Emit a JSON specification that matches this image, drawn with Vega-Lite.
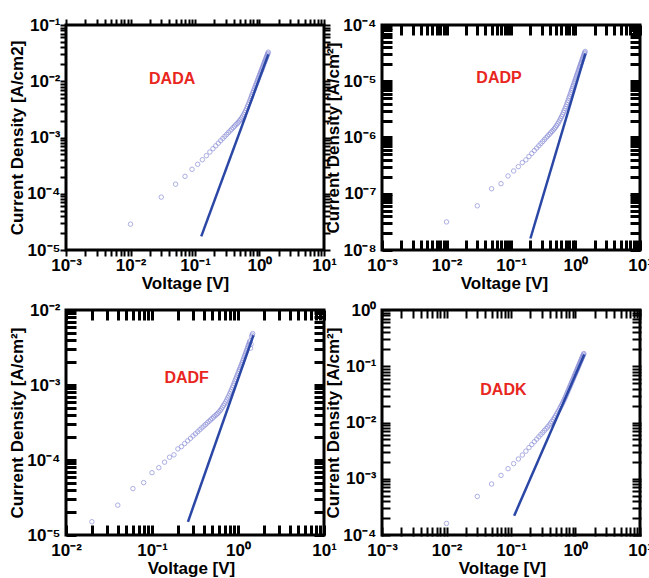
{
  "$schema": "https://vega.github.io/schema/vega-lite/v6.json",
  "padding": {"left": 7, "top": 14, "right": 0, "bottom": 0},
  "bounds": "flush",
  "columns": 2,
  "spacing": {"row": 60, "column": 58},
  "config": {
    "view": {"stroke": "black", "strokeWidth": 3},
    "font": "Liberation Sans",
    "axis": {
      "grid": false, "domain": false,
      "labelFont": "Liberation Sans", "labelFontWeight": "bold", "labelFontSize": 17, "labelColor": "black",
      "titleFont": "Liberation Sans", "titleFontWeight": "bold", "titleFontSize": 17, "titleColor": "black",
      "labelFlush": false, "labelOverlap": false, "labelBound": false
    }
  },
  "datasets": {
    "dada_pts": [
      {"V":0.01,"J":2.88e-5},{"V":0.03,"J":8.71e-5},{"V":0.05,"J":1.48e-4},{"V":0.07,"J":2.04e-4},{"V":0.09,"J":2.72e-4},{"V":0.11,"J":3.34e-4},{"V":0.13,"J":4.03e-4},{"V":0.15,"J":4.75e-4},{"V":0.17,"J":5.52e-4},{"V":0.19,"J":6.32e-4},{"V":0.21,"J":7.11e-4},{"V":0.23,"J":7.94e-4},{"V":0.25,"J":8.77e-4},{"V":0.27,"J":9.62e-4},{"V":0.29,"J":1.047e-3},{"V":0.31,"J":1.135e-3},{"V":0.33,"J":1.227e-3},{"V":0.35,"J":1.315e-3},{"V":0.37,"J":1.403e-3},{"V":0.39,"J":1.496e-3},{"V":0.41,"J":1.589e-3},{"V":0.43,"J":1.679e-3},{"V":0.45,"J":1.774e-3},{"V":0.47,"J":1.871e-3},{"V":0.49,"J":1.972e-3},{"V":0.51,"J":2.099e-3},{"V":0.53,"J":2.234e-3},{"V":0.55,"J":2.393e-3},{"V":0.57,"J":2.576e-3},{"V":0.59,"J":2.78e-3},{"V":0.61,"J":2.992e-3},{"V":0.63,"J":3.243e-3},{"V":0.65,"J":3.532e-3},{"V":0.67,"J":3.846e-3},{"V":0.69,"J":4.198e-3},{"V":0.71,"J":4.56e-3},{"V":0.73,"J":4.955e-3},{"V":0.75,"J":5.383e-3},{"V":0.77,"J":5.808e-3},{"V":0.79,"J":6.31e-3},{"V":0.81,"J":6.761e-3},{"V":0.83,"J":7.295e-3},{"V":0.85,"J":7.816e-3},{"V":0.87,"J":8.433e-3},{"V":0.89,"J":8.974e-3},{"V":0.91,"J":9.616e-3},{"V":0.93,"J":1.023e-2},{"V":0.95,"J":1.096e-2},{"V":0.97,"J":1.167e-2},{"V":0.99,"J":1.242e-2},{"V":1.01,"J":1.312e-2},{"V":1.03,"J":1.396e-2},{"V":1.05,"J":1.476e-2},{"V":1.07,"J":1.56e-2},{"V":1.09,"J":1.648e-2},{"V":1.11,"J":1.742e-2},{"V":1.13,"J":1.841e-2},{"V":1.15,"J":1.945e-2},{"V":1.17,"J":2.042e-2},{"V":1.19,"J":2.158e-2},{"V":1.21,"J":2.265e-2},{"V":1.23,"J":2.377e-2},{"V":1.25,"J":2.495e-2},{"V":1.27,"J":2.618e-2},{"V":1.29,"J":2.748e-2},{"V":1.31,"J":2.864e-2},{"V":1.33,"J":3.006e-2},{"V":1.35,"J":3.133e-2},{"V":1.37,"J":3.289e-2}
    ],
    "dada_fit": [{"V":0.125,"J":1.75e-5},{"V":1.37,"J":3.0e-2}],
    "dada_lbl": [{"V":0.0442,"J":0.0111,"t":"DADA"}],
    "dadp_pts": [
      {"V":0.01,"J":3.16e-8},{"V":0.03,"J":6.11e-8},{"V":0.05,"J":1.227e-7},{"V":0.07,"J":1.51e-7},{"V":0.09,"J":2.07e-7},{"V":0.11,"J":2.541e-7},{"V":0.13,"J":3.034e-7},{"V":0.15,"J":3.581e-7},{"V":0.17,"J":4.0e-7},{"V":0.19,"J":4.603e-7},{"V":0.21,"J":5.212e-7},{"V":0.23,"J":5.848e-7},{"V":0.25,"J":6.486e-7},{"V":0.27,"J":7.129e-7},{"V":0.29,"J":7.798e-7},{"V":0.31,"J":8.472e-7},{"V":0.33,"J":9.183e-7},{"V":0.35,"J":9.886e-7},{"V":0.37,"J":1.059e-6},{"V":0.39,"J":1.13e-6},{"V":0.41,"J":1.205e-6},{"V":0.43,"J":1.276e-6},{"V":0.45,"J":1.352e-6},{"V":0.47,"J":1.435e-6},{"V":0.49,"J":1.528e-6},{"V":0.51,"J":1.637e-6},{"V":0.53,"J":1.75e-6},{"V":0.55,"J":1.879e-6},{"V":0.57,"J":2.032e-6},{"V":0.59,"J":2.193e-6},{"V":0.61,"J":2.366e-6},{"V":0.63,"J":2.559e-6},{"V":0.65,"J":2.786e-6},{"V":0.67,"J":3.02e-6},{"V":0.69,"J":3.289e-6},{"V":0.71,"J":3.565e-6},{"V":0.73,"J":3.873e-6},{"V":0.75,"J":4.227e-6},{"V":0.77,"J":4.592e-6},{"V":0.79,"J":5.023e-6},{"V":0.81,"J":5.42e-6},{"V":0.83,"J":5.902e-6},{"V":0.85,"J":6.368e-6},{"V":0.87,"J":6.918e-6},{"V":0.89,"J":7.413e-6},{"V":0.91,"J":7.998e-6},{"V":0.93,"J":8.551e-6},{"V":0.95,"J":9.226e-6},{"V":0.97,"J":9.886e-6},{"V":0.99,"J":1.059e-5},{"V":1.01,"J":1.125e-5},{"V":1.03,"J":1.205e-5},{"V":1.05,"J":1.279e-5},{"V":1.07,"J":1.361e-5},{"V":1.09,"J":1.445e-5},{"V":1.11,"J":1.538e-5},{"V":1.13,"J":1.633e-5},{"V":1.15,"J":1.734e-5},{"V":1.17,"J":1.828e-5},{"V":1.19,"J":1.945e-5},{"V":1.21,"J":2.051e-5},{"V":1.23,"J":2.163e-5},{"V":1.25,"J":2.28e-5},{"V":1.27,"J":2.404e-5},{"V":1.29,"J":2.535e-5},{"V":1.31,"J":2.655e-5},{"V":1.33,"J":2.799e-5},{"V":1.35,"J":2.931e-5},{"V":1.37,"J":3.09e-5},{"V":1.39,"J":3.236e-5},{"V":1.41,"J":3.388e-5}
    ],
    "dadp_fit": [{"V":0.2,"J":1.6e-8},{"V":1.42,"J":3.1e-5}],
    "dadp_lbl": [{"V":0.0652,"J":1.155e-5,"t":"DADP"}],
    "dadf_pts": [
      {"V":0.02,"J":1.503e-5},{"V":0.04,"J":2.5e-5},{"V":0.06,"J":4.159e-5},{"V":0.08,"J":4.989e-5},{"V":0.1,"J":6.776e-5},{"V":0.12,"J":7.889e-5},{"V":0.14,"J":9.354e-5},{"V":0.16,"J":1.089e-4},{"V":0.18,"J":1.172e-4},{"V":0.2,"J":1.406e-4},{"V":0.22,"J":1.51e-4},{"V":0.24,"J":1.656e-4},{"V":0.26,"J":1.803e-4},{"V":0.28,"J":1.945e-4},{"V":0.3,"J":2.094e-4},{"V":0.32,"J":2.239e-4},{"V":0.34,"J":2.382e-4},{"V":0.36,"J":2.535e-4},{"V":0.38,"J":2.685e-4},{"V":0.4,"J":2.831e-4},{"V":0.42,"J":2.979e-4},{"V":0.44,"J":3.126e-4},{"V":0.46,"J":3.281e-4},{"V":0.48,"J":3.428e-4},{"V":0.5,"J":3.581e-4},{"V":0.52,"J":3.733e-4},{"V":0.54,"J":3.882e-4},{"V":0.56,"J":4.027e-4},{"V":0.58,"J":4.178e-4},{"V":0.6,"J":4.365e-4},{"V":0.62,"J":4.571e-4},{"V":0.64,"J":4.797e-4},{"V":0.66,"J":5.058e-4},{"V":0.68,"J":5.346e-4},{"V":0.7,"J":5.636e-4},{"V":0.72,"J":5.957e-4},{"V":0.74,"J":6.324e-4},{"V":0.76,"J":6.73e-4},{"V":0.78,"J":7.145e-4},{"V":0.8,"J":7.621e-4},{"V":0.82,"J":8.128e-4},{"V":0.84,"J":8.65e-4},{"V":0.86,"J":9.226e-4},{"V":0.88,"J":9.863e-4},{"V":0.9,"J":1.054e-3},{"V":0.92,"J":1.127e-3},{"V":0.94,"J":1.197e-3},{"V":0.96,"J":1.271e-3},{"V":0.98,"J":1.349e-3},{"V":1.0,"J":1.432e-3},{"V":1.02,"J":1.521e-3},{"V":1.04,"J":1.603e-3},{"V":1.06,"J":1.694e-3},{"V":1.08,"J":1.786e-3},{"V":1.1,"J":1.884e-3},{"V":1.12,"J":1.986e-3},{"V":1.14,"J":2.104e-3},{"V":1.16,"J":2.218e-3},{"V":1.18,"J":2.35e-3},{"V":1.2,"J":2.477e-3},{"V":1.22,"J":2.606e-3},{"V":1.24,"J":2.748e-3},{"V":1.26,"J":2.891e-3},{"V":1.28,"J":3.041e-3},{"V":1.3,"J":3.206e-3},{"V":1.32,"J":3.373e-3},{"V":1.34,"J":3.524e-3},{"V":1.36,"J":3.715e-3},{"V":1.38,"J":3.882e-3},{"V":1.4,"J":3.1e-3},{"V":1.42,"J":3.5e-3},{"V":1.44,"J":4.436e-3},{"V":1.46,"J":4.634e-3},{"V":1.48,"J":4.842e-3}
    ],
    "dadf_fit": [{"V":0.262,"J":1.5e-5},{"V":1.51,"J":4.6e-3}],
    "dadf_lbl": [{"V":0.253,"J":1.234e-3,"t":"DADF"}],
    "dadk_pts": [
      {"V":0.01,"J":1.607e-4},{"V":0.03,"J":4.853e-4},{"V":0.05,"J":8.072e-4},{"V":0.07,"J":1.148e-3},{"V":0.09,"J":1.51e-3},{"V":0.11,"J":1.854e-3},{"V":0.13,"J":2.244e-3},{"V":0.15,"J":2.642e-3},{"V":0.17,"J":3.097e-3},{"V":0.19,"J":3.573e-3},{"V":0.21,"J":4.046e-3},{"V":0.23,"J":4.55e-3},{"V":0.25,"J":5.058e-3},{"V":0.27,"J":5.572e-3},{"V":0.29,"J":6.095e-3},{"V":0.31,"J":6.637e-3},{"V":0.33,"J":7.211e-3},{"V":0.35,"J":7.762e-3},{"V":0.37,"J":8.337e-3},{"V":0.39,"J":8.974e-3},{"V":0.41,"J":9.661e-3},{"V":0.43,"J":1.04e-2},{"V":0.45,"J":1.122e-2},{"V":0.47,"J":1.213e-2},{"V":0.49,"J":1.309e-2},{"V":0.51,"J":1.416e-2},{"V":0.53,"J":1.524e-2},{"V":0.55,"J":1.641e-2},{"V":0.57,"J":1.774e-2},{"V":0.59,"J":1.914e-2},{"V":0.61,"J":2.056e-2},{"V":0.63,"J":2.213e-2},{"V":0.65,"J":2.393e-2},{"V":0.67,"J":2.57e-2},{"V":0.69,"J":2.767e-2},{"V":0.71,"J":2.972e-2},{"V":0.73,"J":3.199e-2},{"V":0.75,"J":3.451e-2},{"V":0.77,"J":3.69e-2},{"V":0.79,"J":3.981e-2},{"V":0.81,"J":4.236e-2},{"V":0.83,"J":4.529e-2},{"V":0.85,"J":4.819e-2},{"V":0.87,"J":5.164e-2},{"V":0.89,"J":5.458e-2},{"V":0.91,"J":5.808e-2},{"V":0.93,"J":6.152e-2},{"V":0.95,"J":6.546e-2},{"V":0.97,"J":6.918e-2},{"V":0.99,"J":7.311e-2},{"V":1.01,"J":7.691e-2},{"V":1.03,"J":8.128e-2},{"V":1.05,"J":8.551e-2},{"V":1.07,"J":8.974e-2},{"V":1.09,"J":9.441e-2},{"V":1.11,"J":9.931e-2},{"V":1.13,"J":0.1042},{"V":1.15,"J":0.1096},{"V":1.17,"J":0.1146},{"V":1.19,"J":0.1202},{"V":1.21,"J":0.1256},{"V":1.23,"J":0.1312},{"V":1.25,"J":0.1371},{"V":1.27,"J":0.1432},{"V":1.29,"J":0.1496},{"V":1.31,"J":0.1552},{"V":1.33,"J":0.1622},{"V":1.35,"J":0.1683}
    ],
    "dadk_fit": [{"V":0.112,"J":2.2e-4},{"V":1.37,"J":0.162}],
    "dadk_lbl": [{"V":0.0763,"J":0.0378,"t":"DADK"}]
  },
  "concat": [
    {
      "width": 258, "height": 225,
      "resolve": {"axis": {"x": "independent", "y": "independent"}},
      "layer": [
        {
          "data": {"name": "dada_pts"},
          "mark": {"type": "point", "shape": "circle", "filled": false, "size": 20, "stroke": "#8a8ed8", "strokeWidth": 1},
          "encoding": {
            "x": {"field": "V", "type": "quantitative", "scale": {"type": "log", "domain": [0.001, 10], "nice": false},
              "axis": {"orient": "bottom", "title": "Voltage [V]", "titleX": 119, "labelPadding": 1, "titlePadding": 2,
                "tickCount": 40, "tickColor": "black", "tickWidth": 2, "tickSize": 6,
                "labelExpr": "abs(log(datum.value)/LN10 - round(log(datum.value)/LN10)) > 0.01 ? '' : '10' + (round(log(datum.value)/LN10) < 0 ? '⁻' : '') + ['⁰','¹','²','³','⁴','⁵','⁶','⁷','⁸','⁹'][abs(round(log(datum.value)/LN10))]"}},
            "y": {"field": "J", "type": "quantitative", "scale": {"type": "log", "domain": [1e-5, 0.1], "nice": false},
              "axis": {"orient": "left", "title": "Current Density [A/cm2]", "labelPadding": 0, "titlePadding": 0,
                "tickCount": 40, "tickColor": "black", "tickWidth": 2, "tickSize": 6,
                "labelExpr": "abs(log(datum.value)/LN10 - round(log(datum.value)/LN10)) > 0.01 ? '' : '10' + (round(log(datum.value)/LN10) < 0 ? '⁻' : '') + ['⁰','¹','²','³','⁴','⁵','⁶','⁷','⁸','⁹'][abs(round(log(datum.value)/LN10))]"}}
          }
        },
        {
          "data": {"name": "dada_fit"},
          "mark": {"type": "line", "color": "#2b47a6", "strokeWidth": 2.5},
          "encoding": {
            "x": {"field": "V", "type": "quantitative", "scale": {"type": "log", "domain": [0.001, 10], "nice": false},
              "axis": {"orient": "top", "title": null, "labels": false, "tickCount": 40, "tickColor": "black", "tickWidth": 2, "tickSize": 6}},
            "y": {"field": "J", "type": "quantitative", "scale": {"type": "log", "domain": [1e-5, 0.1], "nice": false},
              "axis": {"orient": "right", "title": null, "labels": false, "tickCount": 40, "tickColor": "black", "tickWidth": 2, "tickSize": 6}}
          }
        },
        {
          "data": {"name": "dada_lbl"},
          "mark": {"type": "text", "font": "Liberation Sans", "fontWeight": "bold", "fontSize": 16, "color": "#e8261e"},
          "encoding": {
            "x": {"field": "V", "type": "quantitative", "scale": {"type": "log", "domain": [0.001, 10], "nice": false}, "axis": null},
            "y": {"field": "J", "type": "quantitative", "scale": {"type": "log", "domain": [1e-5, 0.1], "nice": false}, "axis": null},
            "text": {"field": "t"}
          }
        }
      ]
    },
    {
      "width": 258, "height": 225,
      "resolve": {"axis": {"x": "independent", "y": "independent"}},
      "layer": [
        {
          "data": {"name": "dadp_pts"},
          "mark": {"type": "point", "shape": "circle", "filled": false, "size": 20, "stroke": "#8a8ed8", "strokeWidth": 1},
          "encoding": {
            "x": {"field": "V", "type": "quantitative", "scale": {"type": "log", "domain": [0.001, 10], "nice": false},
              "axis": {"orient": "bottom", "title": "Voltage [V]", "titleX": 122, "labelPadding": 7, "titlePadding": 2, "offset": -10,
                "tickCount": 40, "tickColor": "black", "tickWidth": 3, "tickSize": 10,
                "labelExpr": "abs(log(datum.value)/LN10 - round(log(datum.value)/LN10)) > 0.01 ? '' : '10' + (round(log(datum.value)/LN10) < 0 ? '⁻' : '') + ['⁰','¹','²','³','⁴','⁵','⁶','⁷','⁸','⁹'][abs(round(log(datum.value)/LN10))]"}},
            "y": {"field": "J", "type": "quantitative", "scale": {"type": "log", "domain": [1e-8, 1e-4], "nice": false},
              "axis": {"orient": "left", "title": "Current Density [A/cm²]", "labelPadding": 6, "titlePadding": 0, "offset": -10,
                "tickCount": 40, "tickColor": "black", "tickWidth": 3, "tickSize": 10,
                "labelExpr": "abs(log(datum.value)/LN10 - round(log(datum.value)/LN10)) > 0.01 ? '' : '10' + (round(log(datum.value)/LN10) < 0 ? '⁻' : '') + ['⁰','¹','²','³','⁴','⁵','⁶','⁷','⁸','⁹'][abs(round(log(datum.value)/LN10))]"}}
          }
        },
        {
          "data": {"name": "dadp_fit"},
          "mark": {"type": "line", "color": "#2b47a6", "strokeWidth": 2.5},
          "encoding": {
            "x": {"field": "V", "type": "quantitative", "scale": {"type": "log", "domain": [0.001, 10], "nice": false},
              "axis": {"orient": "top", "title": null, "labels": false, "offset": -10, "tickCount": 40, "tickColor": "black", "tickWidth": 3, "tickSize": 10}},
            "y": {"field": "J", "type": "quantitative", "scale": {"type": "log", "domain": [1e-8, 1e-4], "nice": false},
              "axis": {"orient": "right", "title": null, "labels": false, "offset": -10, "tickCount": 40, "tickColor": "black", "tickWidth": 3, "tickSize": 10}}
          }
        },
        {
          "data": {"name": "dadp_lbl"},
          "mark": {"type": "text", "font": "Liberation Sans", "fontWeight": "bold", "fontSize": 16, "color": "#e8261e"},
          "encoding": {
            "x": {"field": "V", "type": "quantitative", "scale": {"type": "log", "domain": [0.001, 10], "nice": false}, "axis": null},
            "y": {"field": "J", "type": "quantitative", "scale": {"type": "log", "domain": [1e-8, 1e-4], "nice": false}, "axis": null},
            "text": {"field": "t"}
          }
        }
      ]
    },
    {
      "width": 258, "height": 225,
      "resolve": {"axis": {"x": "independent", "y": "independent"}},
      "layer": [
        {
          "data": {"name": "dadf_pts"},
          "mark": {"type": "point", "shape": "circle", "filled": false, "size": 20, "stroke": "#8a8ed8", "strokeWidth": 1},
          "encoding": {
            "x": {"field": "V", "type": "quantitative", "scale": {"type": "log", "domain": [0.01, 10], "nice": false},
              "axis": {"orient": "bottom", "title": "Voltage [V]", "titleX": 125, "labelPadding": 17, "titlePadding": 2,
                "tickCount": 40, "tickColor": "black", "tickWidth": 3, "tickSize": -10,
                "labelExpr": "abs(log(datum.value)/LN10 - round(log(datum.value)/LN10)) > 0.01 ? '' : '10' + (round(log(datum.value)/LN10) < 0 ? '⁻' : '') + ['⁰','¹','²','³','⁴','⁵','⁶','⁷','⁸','⁹'][abs(round(log(datum.value)/LN10))]"}},
            "y": {"field": "J", "type": "quantitative", "scale": {"type": "log", "domain": [1e-5, 0.01], "nice": false},
              "axis": {"orient": "left", "title": "Current Density [A/cm²]", "labelPadding": 16, "titlePadding": 0,
                "tickCount": 40, "tickColor": "black", "tickWidth": 3, "tickSize": -10,
                "labelExpr": "abs(log(datum.value)/LN10 - round(log(datum.value)/LN10)) > 0.01 ? '' : '10' + (round(log(datum.value)/LN10) < 0 ? '⁻' : '') + ['⁰','¹','²','³','⁴','⁵','⁶','⁷','⁸','⁹'][abs(round(log(datum.value)/LN10))]"}}
          }
        },
        {
          "data": {"name": "dadf_fit"},
          "mark": {"type": "line", "color": "#2b47a6", "strokeWidth": 2.5},
          "encoding": {
            "x": {"field": "V", "type": "quantitative", "scale": {"type": "log", "domain": [0.01, 10], "nice": false},
              "axis": {"orient": "top", "title": null, "labels": false, "tickCount": 40, "tickColor": "black", "tickWidth": 3, "tickSize": -10}},
            "y": {"field": "J", "type": "quantitative", "scale": {"type": "log", "domain": [1e-5, 0.01], "nice": false},
              "axis": {"orient": "right", "title": null, "labels": false, "tickCount": 40, "tickColor": "black", "tickWidth": 3, "tickSize": -10}}
          }
        },
        {
          "data": {"name": "dadf_lbl"},
          "mark": {"type": "text", "font": "Liberation Sans", "fontWeight": "bold", "fontSize": 16, "color": "#e8261e"},
          "encoding": {
            "x": {"field": "V", "type": "quantitative", "scale": {"type": "log", "domain": [0.01, 10], "nice": false}, "axis": null},
            "y": {"field": "J", "type": "quantitative", "scale": {"type": "log", "domain": [1e-5, 0.01], "nice": false}, "axis": null},
            "text": {"field": "t"}
          }
        }
      ]
    },
    {
      "width": 258, "height": 225,
      "resolve": {"axis": {"x": "independent", "y": "independent"}},
      "layer": [
        {
          "data": {"name": "dadk_pts"},
          "mark": {"type": "point", "shape": "circle", "filled": false, "size": 20, "stroke": "#8a8ed8", "strokeWidth": 1},
          "encoding": {
            "x": {"field": "V", "type": "quantitative", "scale": {"type": "log", "domain": [0.001, 10], "nice": false},
              "axis": {"orient": "bottom", "title": "Voltage [V]", "titleX": 120, "labelPadding": 7, "titlePadding": 2, "offset": -7, "zindex": 2,
                "tickCount": 40, "tickColor": "#000000", "tickOpacity": 1, "tickCap": "square", "tickWidth": 2, "tickSize": 7,
                "labelExpr": "abs(log(datum.value)/LN10 - round(log(datum.value)/LN10)) > 0.01 ? '' : '10' + (round(log(datum.value)/LN10) < 0 ? '⁻' : '') + ['⁰','¹','²','³','⁴','⁵','⁶','⁷','⁸','⁹'][abs(round(log(datum.value)/LN10))]"}},
            "y": {"field": "J", "type": "quantitative", "scale": {"type": "log", "domain": [1e-4, 1], "nice": false},
              "axis": {"orient": "left", "title": "Current Density [A/cm²]", "labelPadding": 6, "titlePadding": 0, "offset": -7, "zindex": 2,
                "tickCount": 40, "tickColor": "#000000", "tickOpacity": 1, "tickCap": "square", "tickWidth": 2, "tickSize": 7,
                "labelExpr": "abs(log(datum.value)/LN10 - round(log(datum.value)/LN10)) > 0.01 ? '' : '10' + (round(log(datum.value)/LN10) < 0 ? '⁻' : '') + ['⁰','¹','²','³','⁴','⁵','⁶','⁷','⁸','⁹'][abs(round(log(datum.value)/LN10))]"}}
          }
        },
        {
          "data": {"name": "dadk_fit"},
          "mark": {"type": "line", "color": "#2b47a6", "strokeWidth": 2.5},
          "encoding": {
            "x": {"field": "V", "type": "quantitative", "scale": {"type": "log", "domain": [0.001, 10], "nice": false},
              "axis": {"orient": "top", "title": null, "labels": false, "offset": -7, "zindex": 2, "tickCount": 40, "tickColor": "#000000", "tickOpacity": 1, "tickCap": "square", "tickWidth": 2, "tickSize": 7}},
            "y": {"field": "J", "type": "quantitative", "scale": {"type": "log", "domain": [1e-4, 1], "nice": false},
              "axis": {"orient": "right", "title": null, "labels": false, "offset": -7, "zindex": 2, "tickCount": 40, "tickColor": "#000000", "tickOpacity": 1, "tickCap": "square", "tickWidth": 2, "tickSize": 7}}
          }
        },
        {
          "data": {"name": "dadk_lbl"},
          "mark": {"type": "text", "font": "Liberation Sans", "fontWeight": "bold", "fontSize": 16, "color": "#e8261e"},
          "encoding": {
            "x": {"field": "V", "type": "quantitative", "scale": {"type": "log", "domain": [0.001, 10], "nice": false}, "axis": null},
            "y": {"field": "J", "type": "quantitative", "scale": {"type": "log", "domain": [1e-4, 1], "nice": false}, "axis": null},
            "text": {"field": "t"}
          }
        }
      ]
    }
  ]
}
